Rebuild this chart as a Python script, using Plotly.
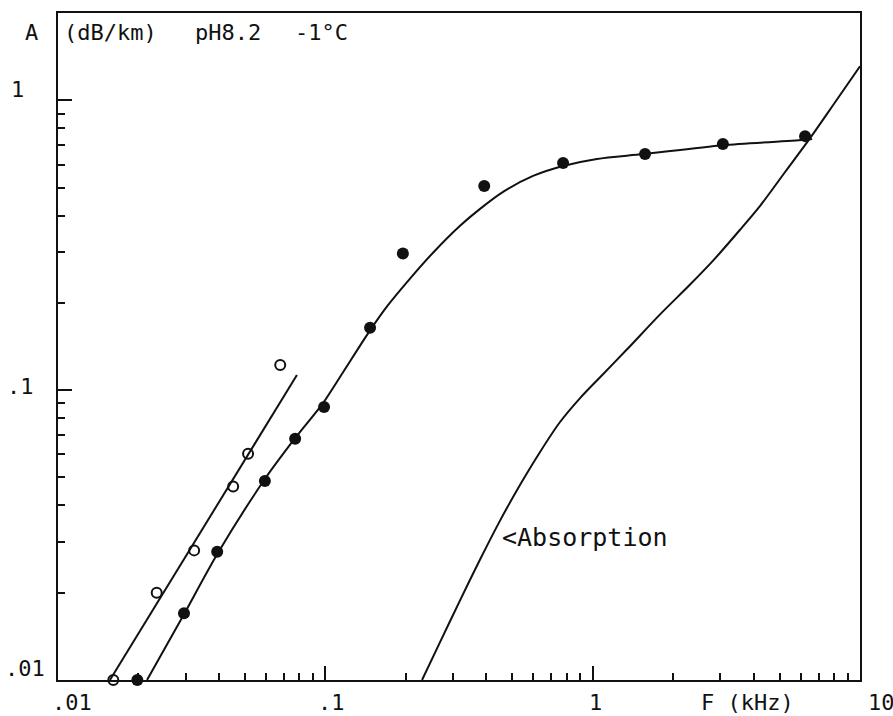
import math
import plotly.graph_objects as go

# ---- data ----
filled_f = [0.0198, 0.0296, 0.0394, 0.0594, 0.0771, 0.0989, 0.147, 0.195, 0.393, 0.775, 1.57, 3.07, 6.23]
filled_a = [0.0100, 0.0170, 0.0277, 0.0486, 0.0679, 0.0875, 0.164, 0.296, 0.506, 0.608, 0.652, 0.706, 0.752]

open_f = [0.0161, 0.0234, 0.0323, 0.0452, 0.0514, 0.0678]
open_a = [0.0100, 0.0200, 0.0280, 0.0465, 0.0603, 0.122]

open_fit_f = [0.01564, 0.0783]
open_fit_a = [0.0100, 0.1128]

filled_fit_f = [0.02153, 0.0296, 0.03934, 0.0595, 0.0777, 0.09804, 0.1165, 0.1445, 0.1701, 0.2074,
                0.2529, 0.3191, 0.3791, 0.4623, 0.5984, 0.775, 1.038, 1.545, 3.08, 6.23, 6.62]
filled_fit_a = [0.0100, 0.01686, 0.0271, 0.04945, 0.06894, 0.09022, 0.1153, 0.157, 0.1944, 0.2426,
                0.2979, 0.369, 0.422, 0.483, 0.5481, 0.5932, 0.6272, 0.652, 0.700, 0.730, 0.735]

absorp_f = [0.230, 0.2686, 0.3191, 0.3791, 0.4503, 0.5353, 0.6357, 0.7551, 0.8972, 1.066, 1.345,
            1.787, 2.314, 2.821, 3.559, 4.230, 5.246, 6.507, 8.069, 10.0]
absorp_a = [0.0100, 0.01351, 0.01883, 0.02604, 0.03547, 0.04716, 0.0612, 0.07762, 0.09387, 0.1108,
            0.1383, 0.1825, 0.2313, 0.2797, 0.3575, 0.4322, 0.5657, 0.7403, 0.9842, 1.309]

x_major = [0.01, 0.1, 1, 10]
y_major = [0.01, 0.1, 1]
x_labels = [".01", ".1", "1", "10"]
y_labels = [".01", ".1", "1"]
x_label_shift = [14, 6, 3, 21]
y_label_shift = [(-33, 12), (-38, 4), (-41, 11)]

minor_vals = [m * d for d in [0.01, 0.1, 1] for m in range(2, 10)]

FONT = "DejaVu Sans Mono"
BLACK = "#111111"

fig = go.Figure()
fig.add_trace(go.Scatter(x=open_fit_f, y=open_fit_a, mode="lines",
                         line=dict(color=BLACK, width=2), hoverinfo="skip"))
fig.add_trace(go.Scatter(x=filled_fit_f, y=filled_fit_a, mode="lines",
                         line=dict(color=BLACK, width=2, shape="spline", smoothing=0.8), hoverinfo="skip"))
fig.add_trace(go.Scatter(x=absorp_f, y=absorp_a, mode="lines",
                         line=dict(color=BLACK, width=2, shape="spline", smoothing=0.8), hoverinfo="skip"))
fig.add_trace(go.Scatter(x=open_f, y=open_a, mode="markers",
                         marker=dict(symbol="circle-open", size=10, color=BLACK,
                                     line=dict(width=2, color=BLACK)), cliponaxis=False))
fig.add_trace(go.Scatter(x=filled_f, y=filled_a, mode="markers",
                         marker=dict(symbol="circle", size=12, color=BLACK), cliponaxis=False))


def make_axis(rng, major):
    return dict(
        type="log", range=rng, tickmode="array", tickvals=major,
        showgrid=False, zeroline=False, showline=True, linecolor=BLACK, linewidth=2,
        mirror=True, ticks="inside", ticklen=14, tickwidth=2, tickcolor=BLACK,
        showticklabels=False, layer="above traces",
        minor=dict(tickmode="array", tickvals=minor_vals, ticks="inside", ticklen=7,
                   tickwidth=2, tickcolor=BLACK, showgrid=False),
    )


ann = []
for v, t, s in zip(x_major, x_labels, x_label_shift):
    ann.append(dict(x=math.log10(v), xref="x", y=0, yref="paper", text=t, showarrow=False,
                    xanchor="center", yanchor="middle", xshift=s, yshift=-22,
                    font=dict(family=FONT, size=22, color=BLACK)))
for v, t, (sx, sy) in zip(y_major, y_labels, y_label_shift):
    ann.append(dict(x=0, xref="paper", y=math.log10(v), yref="y", text=t, showarrow=False,
                    xanchor="center", yanchor="middle", xshift=sx, yshift=sy,
                    font=dict(family=FONT, size=22, color=BLACK)))
# axis titles / header
ann.append(dict(x=0, xref="paper", y=1, yref="paper", text="A", showarrow=False,
                xanchor="center", yanchor="middle", xshift=-27, yshift=-19,
                font=dict(family=FONT, size=22, color=BLACK)))
for t, sx in [("(dB/km)", 4), ("pH8.2", 135), ("-1°C", 235)]:
    ann.append(dict(x=0, xref="paper", y=1, yref="paper", text=t, showarrow=False,
                    xanchor="left", yanchor="middle", xshift=sx, yshift=-19,
                    font=dict(family=FONT, size=22, color=BLACK)))
ann.append(dict(x=math.log10(3.81), xref="x", y=0, yref="paper", text="F (kHz)", showarrow=False,
                xanchor="center", yanchor="middle", yshift=-22,
                font=dict(family=FONT, size=22, color=BLACK)))
ann.append(dict(x=math.log10(0.451), xref="x", y=math.log10(0.031), yref="y", text="<Absorption",
                showarrow=False, xanchor="left", yanchor="middle",
                font=dict(family=FONT, size=25, color=BLACK)))

fig.update_layout(
    width=893, height=716, showlegend=False,
    paper_bgcolor="white", plot_bgcolor="white",
    margin=dict(l=58, r=33, t=11, b=36),
    xaxis=make_axis([-2, 1], x_major),
    yaxis=make_axis([-2, 0.301], y_major),
    annotations=ann,
)

fig.write_html("out.html")
